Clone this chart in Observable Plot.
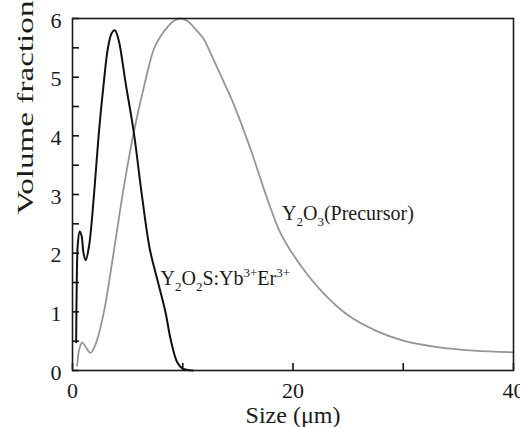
<!DOCTYPE html>
<html><head><meta charset="utf-8">
<script src="https://cdn.jsdelivr.net/npm/d3@7"></script>
<script src="https://cdn.jsdelivr.net/npm/@observablehq/plot@0.6"></script>
<style>html,body{margin:0;padding:0;background:#fff}</style>
</head><body><div id="chart"></div>
<script>
const blackSize = [0.33, 0.38, 0.48, 0.65, 0.82, 1.0, 1.2, 1.5, 1.93, 2.39, 2.84, 3.2, 3.55, 3.84, 4.2, 4.5, 4.81, 5.56, 6.32, 7.01, 7.68, 8.44, 8.89, 9.5, 10.0, 10.9];
const blackFrac = [0.48, 1.4, 2.15, 2.37, 2.3, 2.0, 1.88, 2.12, 2.95, 4.05, 4.91, 5.48, 5.75, 5.8, 5.62, 5.3, 4.91, 4.06, 2.95, 2.07, 1.56, 0.99, 0.54, 0.14, 0.03, 0.0];
const graySize = [0.42, 0.6, 0.88, 1.2, 1.63, 2.1, 2.84, 3.6, 4.5, 5.0, 5.6, 6.5, 7.38, 8.0, 8.59, 9.2, 9.8, 10.5, 11.0, 11.9, 12.5, 13.4, 14.6, 16.1, 17.66, 18.9, 20.7, 22.8, 25.0, 27.5, 30.0, 33.1, 36.4, 40.0];
const grayFrac = [0.08, 0.35, 0.48, 0.4, 0.3, 0.45, 0.99, 1.85, 2.95, 3.5, 4.1, 4.85, 5.48, 5.7, 5.85, 5.96, 6.0, 5.95, 5.85, 5.65, 5.42, 5.05, 4.55, 3.8, 2.93, 2.33, 1.79, 1.31, 0.94, 0.68, 0.51, 0.40, 0.34, 0.31];
const yTickValues = [0, 1, 2, 3, 4, 5, 6];
const yMinorTicks = [0, 0.5, 1, 1.5, 2, 2.5, 3, 3.5, 4, 4.5, 5, 5.5, 6];
const xTickValues = [0, 20, 40];
const xMinorTicks = [0, 10, 20, 30, 40];
const xTitle = "Size (μm)";
const yTitle = "Volume fraction";
const seriesLabels = ["Y_{2}O_{3}(Precursor)", "Y_{2}O_{2}S:Yb^{3+}Er^{3+}"];
const labelSize = [19.0, 7.98];
const labelFrac = [2.56, 1.45];

const W = 520, H = 427, ML = 72, MR = 7, MT = 18, MB = 57;
const FONT = "Liberation Serif";
const gray = graySize.map((x, i) => ({x, y: grayFrac[i]}));
const black = blackSize.map((x, i) => ({x, y: blackFrac[i]}));
const labels = seriesLabels.map((t, i) => ({t, x: labelSize[i], y: labelFrac[i]}));

const plot = Plot.plot({
  width: W, height: H,
  marginLeft: ML, marginRight: MR, marginTop: MT, marginBottom: MB,
  x: {domain: [0, 40], axis: null},
  y: {domain: [0, 6], axis: null},
  style: {fontFamily: FONT, background: "white", color: "#1a1a1a", overflow: "visible"},
  marks: [
    Plot.line(gray, {x: "x", y: "y", stroke: "#959595", strokeWidth: 1.8, curve: "catmull-rom"}),
    Plot.line(black, {x: "x", y: "y", stroke: "#111", strokeWidth: 2, curve: "catmull-rom"}),
    Plot.ruleY(yMinorTicks, {y: d => d, insetRight: W - ML - MR - 7, stroke: "#111", strokeWidth: 1.6}),
    Plot.ruleX(xMinorTicks, {x: d => d, insetTop: H - MT - MB - 7, stroke: "#111", strokeWidth: 1.6}),
    Plot.frame({stroke: "#1a1a1a", strokeWidth: 1.6}),
    Plot.axisY(yTickValues, {tickSize: 0, tickPadding: 11, fontSize: 22, fontFamily: FONT, label: null, dy: 2, tickFormat: d => String(d)}),
    Plot.axisX(xTickValues, {tickSize: 0, tickPadding: 12, fontSize: 22, fontFamily: FONT, label: null, tickFormat: d => String(d)}),
    Plot.text([yTitle], {text: d => d, frameAnchor: "left", dx: -40, dy: 20, rotate: -90, lineAnchor: "bottom", fontSize: 24, fontFamily: FONT}),
    Plot.text([xTitle], {text: d => d, frameAnchor: "bottom", dy: 52, lineAnchor: "bottom", fontSize: 24, fontFamily: FONT}),
    Plot.text(labels, {x: "x", y: "y", text: "t", textAnchor: "start", lineAnchor: "bottom", fontSize: 20, fontFamily: FONT})
  ]
});
document.getElementById("chart").appendChild(plot);

d3.select(plot).selectAll("text").filter(function() { return this.textContent === yTitle; })
  .attr("textLength", 214).attr("lengthAdjust", "spacingAndGlyphs");

d3.select(plot).selectAll("text").filter(function() { return seriesLabels.includes(this.textContent); })
  .each(function() {
    const src = this.textContent;
    const sel = d3.select(this);
    sel.text(null);
    const re = /([_^])\{([^}]*)\}|([^_^]+)/g;
    let m, shift = 0;
    while ((m = re.exec(src))) {
      if (m[3]) {
        sel.append("tspan").attr("dy", -shift).text(m[3]);
        shift = 0;
      } else {
        const s = m[1] === "_" ? 6 : -8;
        sel.append("tspan").attr("dy", s - shift).attr("font-size", 13).text(m[2]);
        shift = s;
      }
    }
  });
</script>
</body></html>
